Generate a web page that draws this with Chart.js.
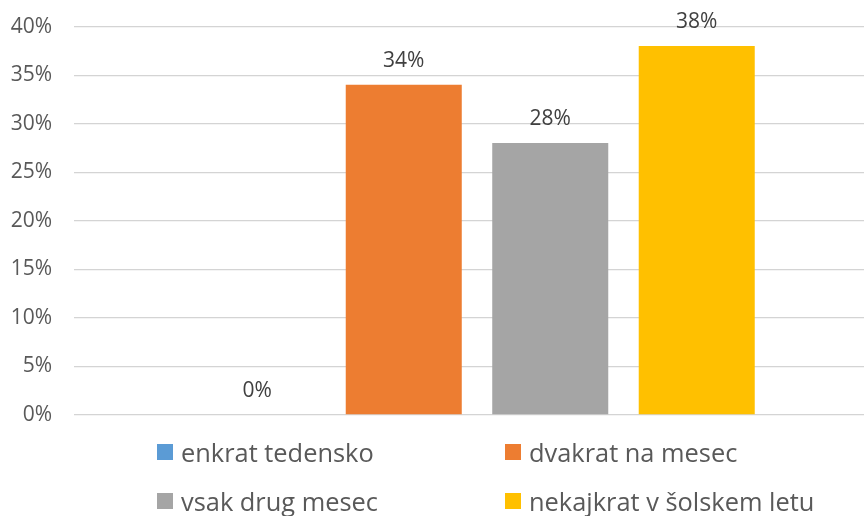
<!DOCTYPE html>
<html>
<head>
<meta charset="utf-8">
<script src="https://cdn.jsdelivr.net/npm/chart.js@4/dist/chart.umd.min.js"></script>
<style>
  html, body { margin: 0; padding: 0; background: #fff; overflow: hidden; }
  #page { position: relative; width: 864px; height: 516px; overflow: hidden; }
  #wrap { position: absolute; left: 0; top: -8px; width: 880px; height: 524px; }
  #legend { position: absolute; left: 0; top: 0; width: 864px; height: 516px; pointer-events: none; }
  .item { position: absolute; height: 30px; display: flex; align-items: center; white-space: nowrap;
          font-family: "Open Sans", sans-serif; font-size: 25.4px; color: #595959; }
  .box { width: 16px; height: 16px; margin-right: 8px; flex: none; }
</style>
</head>
<body>
<div id="page">
  <div id="wrap"><canvas id="c"></canvas></div>
  <div id="legend"></div>
</div>
<script>
const seriesNames = ["enkrat tedensko", "dvakrat na mesec", "vsak drug mesec", "nekajkrat v šolskem letu"];
const seriesValues = [0, 34, 28, 38];
const seriesColors = ["#5B9BD5", "#ED7D31", "#A5A5A5", "#FFC000"];
const categories = [""];
const yTicks = [0, 5, 10, 15, 20, 25, 30, 35, 40];

const dataLabels = {
  id: 'dataLabels',
  afterDatasetsDraw(chart) {
    const ctx = chart.ctx;
    ctx.save();
    ctx.font = '21px "Open Sans", sans-serif';
    ctx.fillStyle = '#404040';
    ctx.textAlign = 'center';
    ctx.textBaseline = 'middle';
    chart.data.datasets.forEach((ds, i) => {
      const meta = chart.getDatasetMeta(i);
      meta.data.forEach((el, j) => {
        ctx.fillText(ds.data[j] + '%', el.x, el.y - 24);
      });
    });
    ctx.restore();
  }
};

const chart = new Chart(document.getElementById('c'), {
  type: 'bar',
  data: {
    labels: categories,
    datasets: seriesNames.map((n, i) => ({
      label: n,
      data: [seriesValues[i]],
      backgroundColor: seriesColors[i],
      borderWidth: 0,
      categoryPercentage: 0.727,
      barPercentage: 0.792
    }))
  },
  options: {
    responsive: true,
    maintainAspectRatio: false,
    animation: false,
    layout: { padding: { top: 27, bottom: 101, left: 0, right: 0 } },
    plugins: { legend: { display: false }, tooltip: { enabled: false } },
    scales: {
      x: { display: false },
      y: {
        min: 0, max: 40,
        afterFit(scale) { scale.width = 74; },
        afterBuildTicks(scale) { scale.ticks = yTicks.map(v => ({ value: v })); },
        grid: { color: '#d4d4d4', lineWidth: 1.3, drawTicks: false },
        border: { display: false },
        ticks: {
          padding: 22,
          color: '#595959',
          font: { family: '"Open Sans", sans-serif', size: 21 },
          callback: v => v + '%'
        }
      }
    }
  },
  plugins: [dataLabels]
});

const legendPos = [[157, 452], [505, 452], [157, 501], [505, 501]];
const legend = document.getElementById('legend');
seriesNames.forEach((n, i) => {
  const d = document.createElement('div');
  d.className = 'item';
  d.style.left = legendPos[i][0] + 'px';
  d.style.top = (legendPos[i][1] - 15) + 'px';
  const b = document.createElement('span');
  b.className = 'box';
  b.style.background = seriesColors[i];
  const t = document.createElement('span');
  t.textContent = n;
  d.appendChild(b); d.appendChild(t);
  legend.appendChild(d);
});
</script>
</body>
</html>
